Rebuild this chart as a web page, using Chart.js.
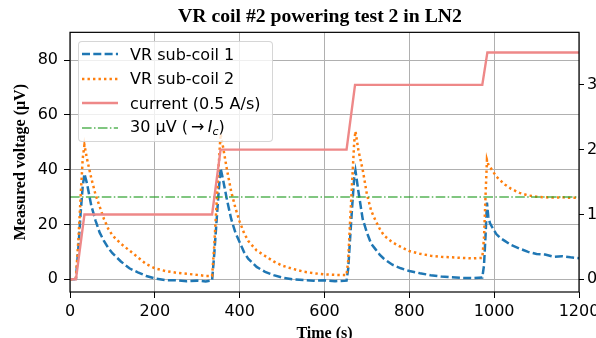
<!DOCTYPE html>
<html>
<head>
<meta charset="utf-8">
<script src="https://cdn.jsdelivr.net/npm/chart.js@4.4.1/dist/chart.umd.min.js"></script>
<style>
  html, body { margin: 0; padding: 0; background: #fff; overflow: hidden; }
  #wrap { position: relative; width: 596px; height: 338px; overflow: hidden; }
  #chart { position: absolute; left: 0; top: 0; }
  #legend {
    position: absolute; left: 78px; top: 41px; width: 195px; height: 101px;
    box-sizing: border-box; background: rgba(255,255,255,0.8);
    border: 1px solid rgba(204,204,204,0.8); border-radius: 4px;
    font-family: 'DejaVu Sans', sans-serif; font-size: 16px; color: #000;
  }
  .row { position: absolute; left: 0; height: 24px; display: flex; align-items: center; }
  .row svg { margin-left: 3px; width: 36px; height: 6px; }
  .row span { margin-left: 12px; white-space: nowrap; }
  .row sub { font-size: 11px; vertical-align: -3px; }
</style>
</head>
<body>
<div id="wrap">
  <canvas id="chart" width="640" height="360"></canvas>
  <div id="legend">
    <div class="row" style="top:0px"><svg><line x1="0" y1="3" x2="36" y2="3" stroke="#1f77b4" stroke-width="2.5" stroke-dasharray="8 3.3"/></svg><span>VR sub-coil 1</span></div>
    <div class="row" style="top:24.5px"><svg><line x1="0" y1="3" x2="36" y2="3" stroke="#ff7f0e" stroke-width="2.5" stroke-dasharray="2.4 3.1"/></svg><span>VR sub-coil 2</span></div>
    <div class="row" style="top:49px"><svg><line x1="0" y1="3" x2="36" y2="3" stroke="#ee8888" stroke-width="2.4"/></svg><span>current (0.5 A/s)</span></div>
    <div class="row" style="top:73.5px"><svg><line x1="0" y1="3" x2="36" y2="3" stroke="rgba(44,160,44,0.6)" stroke-width="2.2" stroke-dasharray="9.6 2.4 1.5 2.4"/></svg><span>30 μV (&thinsp;→&thinsp;<i>I<sub>c</sub></i>)</span></div>
  </div>
</div>
<script>
// time axis (s) shared by both sub-coil traces
const timeS = [
  0, 10, 14, 20, 25, 30, 34, 40, 50, 60, 70, 80, 90, 100, 120, 140, 160, 180, 200, 225, 250, 275, 300, 320, 335,
  340, 345, 350, 355, 360, 370, 380, 390, 400, 410, 420, 440, 460, 480, 500, 525, 550, 575, 600, 625, 652,
  656, 660, 665, 670, 673, 680, 690, 700, 710, 720, 730, 740, 760, 780, 800, 825, 850, 875, 900, 925, 950, 972,
  976, 980, 983, 986, 990, 996, 1005, 1015, 1025, 1040, 1060, 1080, 1100, 1120, 1140, 1160, 1180, 1200
];
// VR sub-coil 1 (uV)
const coil1 = [
  0, 0, 0.2, 12, 24, 34, 38.5, 35, 27, 21.5, 17, 14, 11.5, 9.5, 6.5, 4, 2.5, 1.2, 0.3, -0.3, -0.4, -0.7, -0.5, -0.8, -0.4,
  9, 20, 31, 40.5, 37, 29, 22, 17, 13.5, 10, 7.5, 4.5, 2.7, 1.5, 0.6, 0, -0.3, -0.5, -0.4, -0.7, -0.5,
  4, 14, 26, 37, 39.6, 32, 22, 17, 13, 11, 9, 7.5, 5.3, 4, 3, 2.2, 1.5, 1, 0.7, 0.5, 0.4, 0.6,
  5, 17, 28, 23, 20.5, 18.8, 16.5, 15, 14, 12.5, 11.2, 10, 9.2, 9, 8.2, 8.4, 8, 7.7
];
// VR sub-coil 2 (uV)
const coil2 = [
  0, 0, 0.5, 15, 30, 44, 49, 44, 37, 31, 26.5, 22, 18.5, 16, 13, 10.5, 8, 5.5, 4, 3, 2.4, 2, 1.6, 1.2, 1.2,
  12, 26, 40, 53, 49, 40, 32, 26, 21, 17, 14, 10.5, 8.5, 6.5, 5, 3.8, 2.8, 2.2, 1.8, 1.6, 1.5,
  7, 20, 35, 50, 54, 47, 40, 31, 25, 21.5, 18.5, 16, 13.5, 11.8, 10.3, 9.3, 8.6, 8.2, 8, 7.8, 7.6, 7.8,
  15, 32, 43.6, 42, 41, 39.6, 37.5, 36, 34.6, 33, 31.5, 30.6, 30.1, 29.9, 29.8, 29.9, 29.7, 29.7
];
// current ramps at 0.5 A/s (right axis, A)
const currentT = [0, 14, 34, 335, 355, 652, 672, 972, 984, 1200];
const currentA = [0, 0, 10, 10, 20, 20, 30, 30, 35, 35];
// 30 uV criterion
const thresholdT = [0, 1200];
const thresholdV = [30, 30];

const xTicks = [0, 200, 400, 600, 800, 1000, 1200];
const yTicks = [0, 20, 40, 60, 80];
const y2Ticks = [0, 10, 20, 30];

function pairs(xs, ys) {
  return xs.map((x, i) => ({ x: x, y: ys[i] }));
}

const tickFont = { family: "'DejaVu Sans', sans-serif", size: 16 };
const labelFont = { family: "'Liberation Serif', 'Times New Roman', serif", size: 16, weight: 'bold' };
const gridColor = '#b0b0b0';
const plainNum = v => String(v);

// black box around the plot area
const framePlugin = {
  id: 'frame',
  afterDatasetsDraw(chart) {
    const { ctx, chartArea: a } = chart;
    ctx.save();
    ctx.strokeStyle = '#000';
    ctx.lineWidth = 1.2;
    ctx.strokeRect(a.left, a.top, a.right - a.left, a.bottom - a.top);
    ctx.restore();
  }
};

new Chart(document.getElementById('chart'), {
  type: 'line',
  data: {
    datasets: [
      {
        label: 'current (0.5 A/s)',
        data: pairs(currentT, currentA),
        yAxisID: 'y2',
        borderColor: '#ee8888',
        borderWidth: 2.4,
        order: 0
      },
      {
        label: '30 μV (→ Ic)',
        data: pairs(thresholdT, thresholdV),
        yAxisID: 'y',
        borderColor: 'rgba(44,160,44,0.6)',
        borderWidth: 2,
        borderDash: [9.6, 2.4, 1.5, 2.4],
        order: 1
      },
      {
        label: 'VR sub-coil 2',
        data: pairs(timeS, coil2),
        yAxisID: 'y',
        borderColor: '#ff7f0e',
        borderWidth: 2.5,
        borderDash: [2.4, 3.1],
        order: 2
      },
      {
        label: 'VR sub-coil 1',
        data: pairs(timeS, coil1),
        yAxisID: 'y',
        borderColor: '#1f77b4',
        borderWidth: 2.5,
        borderDash: [8, 3.3],
        order: 3
      }
    ]
  },
  options: {
    responsive: false,
    animation: false,
    devicePixelRatio: 1,
    layout: { padding: 0 },
    elements: { point: { radius: 0 }, line: { tension: 0, fill: false } },
    plugins: {
      legend: { display: false },
      tooltip: { enabled: false },
      title: {
        display: true,
        text: 'VR coil #2 powering test 2 in LN2',
        color: '#000',
        font: { family: "'Liberation Serif', 'Times New Roman', serif", size: 19.7, weight: 'bold' },
        padding: { top: 5, bottom: 3.7 }
      }
    },
    scales: {
      x: {
        type: 'linear',
        position: 'bottom',
        min: 0,
        max: 1200,
        afterBuildTicks: s => { s.ticks = xTicks.map(v => ({ value: v })); },
        afterFit: s => { s.height = 68; },
        grid: { color: gridColor, lineWidth: 1, tickColor: '#000', tickLength: 6 },
        border: { display: false },
        ticks: { color: '#000', font: tickFont, padding: 4, maxRotation: 0, callback: plainNum },
        title: { display: true, text: 'Time (s)', color: '#000', font: labelFont, padding: { top: 0, bottom: 17 } }
      },
      y: {
        type: 'linear',
        position: 'left',
        min: -4.65,
        max: 90.1,
        afterBuildTicks: s => { s.ticks = yTicks.map(v => ({ value: v })); },
        afterFit: s => { s.width = 70; },
        grid: { color: gridColor, lineWidth: 1, tickColor: '#000', tickLength: 6 },
        border: { display: false },
        ticks: { color: '#000', font: tickFont, padding: 6, callback: plainNum },
        title: { display: true, text: 'Measured voltage (μV)', color: '#000', font: labelFont, padding: { top: 11.4, bottom: 0 } }
      },
      y2: {
        type: 'linear',
        position: 'right',
        min: -1.96,
        max: 38.1,
        afterBuildTicks: s => { s.ticks = y2Ticks.map(v => ({ value: v })); },
        afterFit: s => { s.width = 61; },
        grid: { drawOnChartArea: false, tickColor: '#000', tickLength: 5 },
        border: { display: false },
        ticks: { color: '#000', font: tickFont, padding: 3, callback: plainNum }
      }
    }
  },
  plugins: [framePlugin]
});
</script>
</body>
</html>
